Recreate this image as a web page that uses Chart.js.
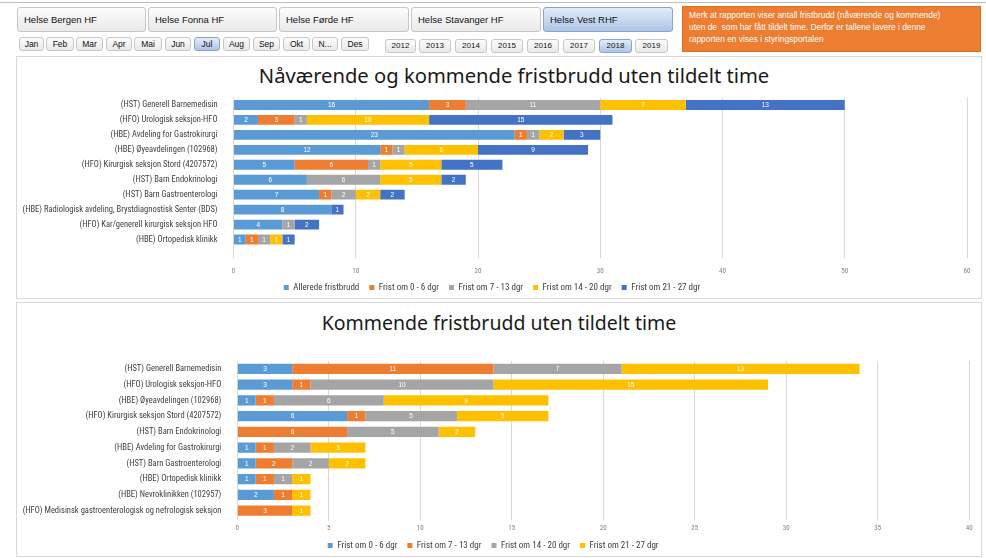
<!DOCTYPE html>
<html><head><meta charset="utf-8">
<script src="https://cdn.jsdelivr.net/npm/chart.js@4"></script>
<style>
body{margin:0;width:986px;height:558px;background:#fff;position:relative;overflow:hidden;font-family:'Liberation Sans',Arial,sans-serif}
.topline{position:absolute;left:0;top:2px;width:986px;height:1px;background:#bdbdbd}
.btn{position:absolute;box-sizing:border-box;border:1px solid #c6c6c6;border-radius:3px;background:linear-gradient(#fcfcfc,#e9e9e9);color:#111;white-space:nowrap;overflow:hidden}
.big{top:7px;height:25px;padding-left:6px;line-height:23px;font-size:9.5px}
.sm{top:37px;height:14px;line-height:12px;text-align:center;font-size:8.5px}
.yr{top:39px;height:14px;line-height:12px;text-align:center;font-size:8px}
.sel{background:linear-gradient(#e3ecf8,#aec5e7);border-color:#8aa3c7}
.note{position:absolute;left:682px;top:6px;width:299px;height:46px;box-sizing:border-box;background:#ed7d31;color:#fff;font-size:8.4px;line-height:12px;padding:2px 0 0 6px;border:1px solid #d8701f}
.panel{position:absolute;left:16px;width:966px;box-sizing:border-box;border:1px solid #d9d9d9;background:#fff}
.title{position:absolute;left:0;width:100%;text-align:center;font-family:'Noto Sans','Open Sans',sans-serif;color:#1a1a1a;white-space:nowrap}
canvas{position:absolute;left:0;top:0}
</style>
</head><body>
<div class="topline"></div>
<div class="btn big" style="left:17px;width:129px">Helse Bergen HF</div>
<div class="btn big" style="left:148px;width:129px">Helse Fonna HF</div>
<div class="btn big" style="left:279px;width:130px">Helse Førde HF</div>
<div class="btn big" style="left:411px;width:130px">Helse Stavanger HF</div>
<div class="btn big sel" style="left:543px;width:130px">Helse Vest RHF</div>

<div class="btn sm" style="left:19px;width:25px">Jan</div>
<div class="btn sm" style="left:46px;width:28px">Feb</div>
<div class="btn sm" style="left:76px;width:27px">Mar</div>
<div class="btn sm" style="left:106px;width:26px">Apr</div>
<div class="btn sm" style="left:134px;width:28px">Mai</div>
<div class="btn sm" style="left:165px;width:26px">Jun</div>
<div class="btn sm sel" style="left:194px;width:26px">Jul</div>
<div class="btn sm" style="left:223px;width:27px">Aug</div>
<div class="btn sm" style="left:253px;width:27px">Sep</div>
<div class="btn sm" style="left:283px;width:27px">Okt</div>
<div class="btn sm" style="left:312px;width:26px">N...</div>
<div class="btn sm" style="left:341px;width:28px">Des</div>

<div class="btn yr" style="left:385px;width:31px">2012</div>
<div class="btn yr" style="left:419px;width:32px">2013</div>
<div class="btn yr" style="left:455px;width:32px">2014</div>
<div class="btn yr" style="left:491px;width:32px">2015</div>
<div class="btn yr" style="left:527px;width:32px">2016</div>
<div class="btn yr" style="left:563px;width:32px">2017</div>
<div class="btn yr sel" style="left:599px;width:33px">2018</div>
<div class="btn yr" style="left:635px;width:33px">2019</div>

<div class="note">Merk at rapporten viser antall fristbrudd (nåværende og kommende)<br>uten de&nbsp; som har fått tildelt time. Derfor er tallene lavere i denne<br>rapporten en vises i styringsportalen</div>

<div class="panel" style="top:56px;height:243px">
  <div class="title" style="top:5px;left:15px;font-size:20.2px;line-height:26px">Nåværende og kommende fristbrudd uten tildelt time</div>
</div>
<div class="panel" style="top:302px;height:255px">
  <div class="title" style="top:7px;font-size:19.5px;line-height:26px">Kommende fristbrudd uten tildelt time</div>
</div>
<div style="position:absolute;left:17px;top:57px;width:964px;height:246px"><canvas id="c1"></canvas></div>
<div style="position:absolute;left:17px;top:303px;width:964px;height:258px"><canvas id="c2"></canvas></div>

<script>
// ---------- Chart 1 data ----------
const categories1 = [
  "(HST) Generell Barnemedisin",
  "(HFO) Urologisk seksjon-HFO",
  "(HBE) Avdeling for Gastrokirurgi",
  "(HBE) Øyeavdelingen (102968)",
  "(HFO) Kirurgisk seksjon Stord (4207572)",
  "(HST) Barn Endokrinologi",
  "(HST) Barn Gastroenterologi",
  "(HBE) Radiologisk avdeling, Brystdiagnostisk Senter (BDS)",
  "(HFO) Kar/generell kirurgisk seksjon HFO",
  "(HBE) Ortopedisk klinikk"
];
const allerede1  = [16, 2, 23, 12, 5, 6, 7, 8, 4, 1];
const frist0_6_1 = [3, 3, 1, 1, 6, 0, 1, 0, 0, 1];
const frist7_13_1 = [11, 1, 1, 1, 1, 6, 2, 0, 1, 1];
const frist14_20_1 = [7, 10, 2, 6, 5, 5, 2, 0, 0, 1];
const frist21_27_1 = [13, 15, 3, 9, 5, 2, 2, 1, 2, 1];
const ticks1 = [0, 10, 20, 30, 40, 50, 60];

// ---------- Chart 2 data ----------
const categories2 = [
  "(HST) Generell Barnemedisin",
  "(HFO) Urologisk seksjon-HFO",
  "(HBE) Øyeavdelingen (102968)",
  "(HFO) Kirurgisk seksjon Stord (4207572)",
  "(HST) Barn Endokrinologi",
  "(HBE) Avdeling for Gastrokirurgi",
  "(HST) Barn Gastroenterologi",
  "(HBE) Ortopedisk klinikk",
  "(HBE) Nevroklinikken (102957)",
  "(HFO) Medisinsk gastroenterologisk og nefrologisk seksjon"
];
const kFrist0_6  = [3, 3, 1, 6, 0, 1, 1, 1, 2, 0];
const kFrist7_13 = [11, 1, 1, 1, 6, 1, 2, 1, 1, 3];
const kFrist14_20 = [7, 10, 6, 5, 5, 2, 2, 1, 0, 0];
const kFrist21_27 = [13, 15, 9, 5, 2, 3, 2, 1, 1, 1];
const ticks2 = [0, 5, 10, 15, 20, 25, 30, 35, 40];

const C_LBLUE = '#5b9bd5', C_ORANGE = '#ed7d31', C_GRAY = '#a5a5a5', C_YELLOW = '#ffc000', C_DBLUE = '#4472c4';
const NARROW = "'Liberation Sans Narrow','Roboto Condensed','Liberation Sans',sans-serif";

const valueLabels = {
  id: 'valueLabels',
  afterDatasetsDraw(chart) {
    const ctx = chart.ctx;
    ctx.save();
    ctx.fillStyle = '#ffffff';
    ctx.font = "6.5px 'Liberation Sans', Arial, sans-serif";
    ctx.textAlign = 'center';
    ctx.textBaseline = 'middle';
    chart.data.datasets.forEach((ds, i) => {
      const meta = chart.getDatasetMeta(i);
      meta.data.forEach((el, j) => {
        const v = ds.data[j];
        if (!v) return;
        const p = el.getCenterPoint();
        ctx.fillText(String(v), p.x, p.y + 0.5);
      });
    });
    ctx.restore();
  }
};

Chart.defaults.animation = false;
Chart.defaults.font.family = NARROW;

function ds(label, data, color) {
  return { label, data, backgroundColor: color, borderWidth: 0, barPercentage: 0.66, categoryPercentage: 1.0 };
}

function makeChart(id, cats, datasets, tickVals, yWidth, pad, tickLen, tickPad, xHeight) {
  return new Chart(document.getElementById(id), {
    type: 'bar',
    data: { labels: cats, datasets },
    options: {
      indexAxis: 'y',
      responsive: true,
      maintainAspectRatio: false,
      layout: { padding: pad },
      scales: {
        x: {
          stacked: true, min: tickVals[0], max: tickVals[tickVals.length - 1],
          ticks: { stepSize: tickVals[1] - tickVals[0], color: '#7f7f7f', font: { size: 7, family: NARROW }, padding: tickPad },
          grid: { color: '#d9d9d9', lineWidth: 1, drawTicks: tickLen > 0, tickLength: tickLen, tickColor: '#d9d9d9' },
          border: { display: false },
          afterFit: s => { s.height = xHeight; }
        },
        y: {
          stacked: true,
          ticks: { color: '#404040', font: { size: 8.5, family: NARROW }, padding: 8, autoSkip: false },
          grid: { display: false },
          border: { display: false },
          afterFit: s => { s.width = yWidth; }
        }
      },
      plugins: {
        title: { display: false },
        tooltip: { enabled: false },
        legend: {
          position: 'bottom',
          labels: { boxWidth: 5, boxHeight: 5, padding: 10, color: '#404040', font: { size: 9, family: NARROW } }
        }
      }
    },
    plugins: [valueLabels]
  });
}

makeChart('c1', categories1, [
  ds('Allerede fristbrudd', allerede1, C_LBLUE),
  ds('Frist om 0 - 6 dgr', frist0_6_1, C_ORANGE),
  ds('Frist om 7 - 13 dgr', frist7_13_1, C_GRAY),
  ds('Frist om 14 - 20 dgr', frist14_20_1, C_YELLOW),
  ds('Frist om 21 - 27 dgr', frist21_27_1, C_DBLUE)
], ticks1, 216.5, { left: 0, right: 14, top: 40.5, bottom: 1 }, 11, 9, 26);

makeChart('c2', categories2, [
  ds('Frist om 0 - 6 dgr', kFrist0_6, C_LBLUE),
  ds('Frist om 7 - 13 dgr', kFrist7_13, C_ORANGE),
  ds('Frist om 14 - 20 dgr', kFrist14_20, C_GRAY),
  ds('Frist om 21 - 27 dgr', kFrist21_27, C_YELLOW)
], ticks2, 220.3, { left: 0, right: 11.7, top: 58, bottom: 1 }, 2, 4, 12.5);
</script>
</body></html>
